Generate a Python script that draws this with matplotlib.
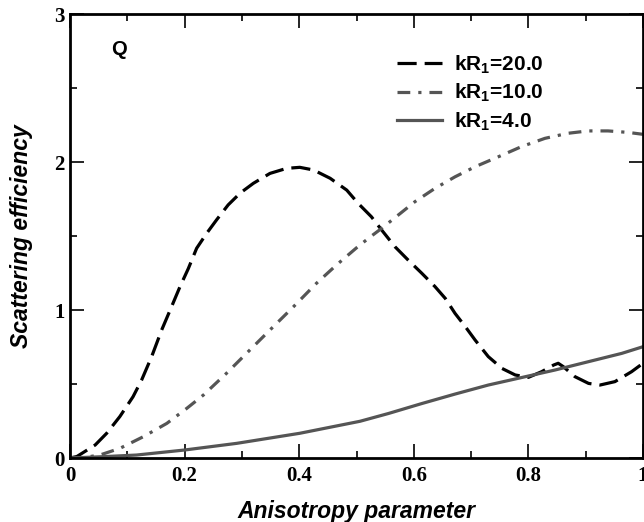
import matplotlib
matplotlib.use("Agg")
import matplotlib.pyplot as plt
from matplotlib.ticker import MultipleLocator

# kR1 = 20.0 (dashed)
x20 = [0.0, 0.012, 0.044, 0.064, 0.087, 0.11, 0.125, 0.1425, 0.16, 0.177, 0.192,
       0.2065, 0.221, 0.2385, 0.256, 0.276, 0.297, 0.32, 0.349, 0.378, 0.401,
       0.425, 0.454, 0.483, 0.503, 0.526, 0.544, 0.567, 0.59, 0.614, 0.637,
       0.655, 0.672, 0.69, 0.707, 0.73, 0.754, 0.777, 0.8, 0.823, 0.844, 0.852,
       0.861, 0.881, 0.905, 0.925, 0.951, 0.98, 1.0]
y20 = [0.0, 0.01, 0.088, 0.167, 0.28, 0.414, 0.527, 0.685, 0.865, 1.02, 1.158,
       1.28, 1.417, 1.518, 1.61, 1.71, 1.79, 1.856, 1.923, 1.957, 1.964,
       1.946, 1.89, 1.81, 1.72, 1.63, 1.54, 1.428, 1.338, 1.248, 1.158,
       1.078, 0.977, 0.887, 0.797, 0.685, 0.605, 0.561, 0.545, 0.583, 0.628, 0.64,
       0.617, 0.55, 0.504, 0.493, 0.516, 0.583, 0.64]

# kR1 = 10.0 (dash-dot)
x10 = [0.0, 0.025, 0.052, 0.087, 0.128, 0.169, 0.204, 0.233, 0.273, 0.308, 0.349,
       0.39, 0.43, 0.465, 0.5, 0.521, 0.544, 0.573, 0.602, 0.637, 0.672, 0.707,
       0.748, 0.788, 0.829, 0.869, 0.904, 0.939, 0.974, 1.0]
y10 = [0.0, 0.004, 0.02, 0.065, 0.144, 0.234, 0.336, 0.426, 0.572, 0.707, 0.865,
       1.022, 1.18, 1.304, 1.42, 1.485, 1.552, 1.642, 1.732, 1.822, 1.9, 1.968,
       2.036, 2.104, 2.16, 2.194, 2.21, 2.21, 2.2, 2.187]

# kR1 = 4.0 (solid)
x4 = [0.0, 0.058, 0.116, 0.2, 0.291, 0.401, 0.506, 0.556, 0.614, 0.672, 0.73,
      0.8, 0.847, 0.905, 0.963, 1.0]
y4 = [0.0, 0.009, 0.02, 0.054, 0.099, 0.167, 0.248, 0.301, 0.368, 0.432, 0.493,
      0.554, 0.595, 0.651, 0.707, 0.752]

labels = [r"kR$_\mathbf{1}$=20.0", r"kR$_\mathbf{1}$=10.0", r"kR$_\mathbf{1}$=4.0"]
xticks = [0, 0.2, 0.4, 0.6, 0.8, 1]
xticklabels = ["0", "0.2", "0.4", "0.6", "0.8", "1"]
yticks = [0, 1, 2, 3]
yticklabels = ["0", "1", "2", "3"]

plt.rcParams['mathtext.fontset'] = 'custom'
plt.rcParams['mathtext.bf'] = 'Liberation Sans:bold'
plt.rcParams['mathtext.rm'] = 'Liberation Sans:bold'

fig = plt.figure(figsize=(6.44, 5.22), dpi=100)
ax = fig.add_axes([70/644, 64/522, 573/644, 444/522])

gray = "#555555"
lw = 2.3
ax.plot(x20, y20, color="black", lw=lw, linestyle=(0, (6, 2.5)), label=labels[0])
ax.plot(x10, y10, color=gray, lw=lw, linestyle=(0, (4, 2.5, 1, 2.5)), label=labels[1])
ax.plot(x4, y4, color=gray, lw=lw, linestyle="-", label=labels[2])

ax.set_xlim(0, 1)
ax.set_ylim(0, 3)
ax.set_xticks(xticks)
ax.set_xticklabels(xticklabels, fontfamily="Liberation Serif", fontweight="bold", fontsize=15)
ax.set_yticks(yticks)
ax.set_yticklabels(yticklabels, fontfamily="Liberation Serif", fontweight="bold", fontsize=15)
ax.xaxis.set_minor_locator(MultipleLocator(0.1))
ax.yaxis.set_minor_locator(MultipleLocator(0.5))
ax.tick_params(which="both", direction="in", top=True, right=True, width=1.2)
ax.tick_params(which="major", length=10)
ax.tick_params(which="minor", length=5)
ax.tick_params(axis="x", pad=6)
ax.tick_params(axis="y", pad=4)
for s in ax.spines.values():
    s.set_linewidth(2)

ax.set_xlabel("Anisotropy parameter", fontfamily="Liberation Sans", fontweight="bold",
              fontstyle="italic", fontsize=16.5, labelpad=10)
ax.set_ylabel("Scattering efficiency", fontfamily="Liberation Sans", fontweight="bold",
              fontstyle="italic", fontsize=16.5, labelpad=15)

ax.text(0.0855, 0.919, "Q", transform=ax.transAxes, fontfamily="Liberation Sans",
        fontweight="bold", fontsize=14.5, ha="center", va="center")

leg = ax.legend(loc="upper left", bbox_to_anchor=((397 - 70) / 573, (458 - 53) / 444),
                frameon=False, borderaxespad=0, borderpad=0,
                prop={"family": "Liberation Sans", "weight": "bold", "size": 15},
                handlelength=2.15, handletextpad=0.58, labelspacing=0.3)

fig.savefig("out.png", dpi=100)
